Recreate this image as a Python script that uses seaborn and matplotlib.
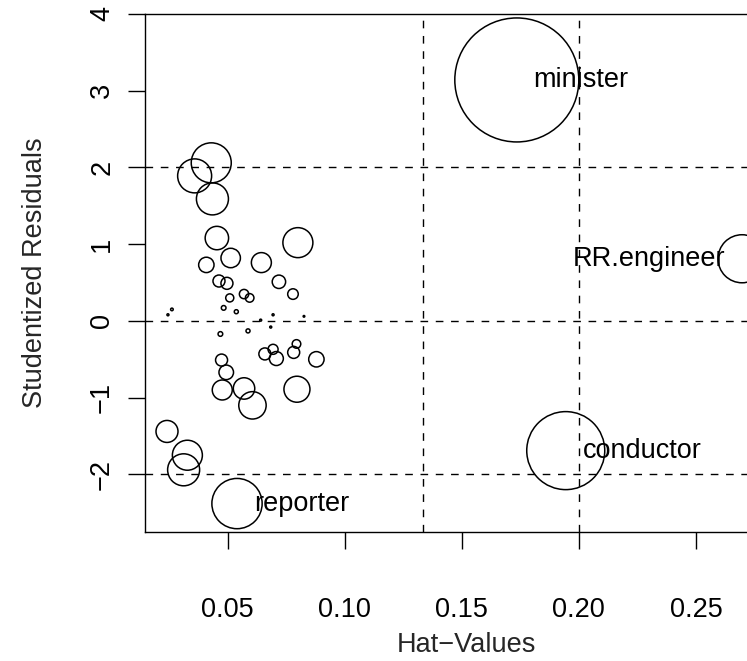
import matplotlib
matplotlib.use("Agg")
import matplotlib.pyplot as plt
import pandas as pd
import seaborn as sns

# Influence plot for the occupational prestige regression:
# hat-values vs studentized residuals, circle area proportional to Cook's D.
names = ["minister", "conductor", "RR.engineer", "reporter"] + [""] * 40
hat = [0.1735, 0.1944, 0.2697, 0.0540,
       0.0430, 0.0359, 0.0435, 0.0454, 0.0800, 0.0409, 0.0513, 0.0644,
       0.0463, 0.0497, 0.0719, 0.0779, 0.0509, 0.0570, 0.0594, 0.0483,
       0.0537, 0.0641, 0.0694, 0.0826, 0.0684, 0.0469, 0.0587, 0.0262,
       0.0245, 0.0794, 0.0782, 0.0659, 0.0694, 0.0708, 0.0879, 0.0474,
       0.0494, 0.0477, 0.0570, 0.0606, 0.0796, 0.0241, 0.0328, 0.0312]
rstud = [3.14, -1.69, 0.81, -2.38,
         2.06, 1.89, 1.59, 1.08, 1.02, 0.73, 0.82, 0.76,
         0.52, 0.49, 0.51, 0.35, 0.30, 0.35, 0.30, 0.17,
         0.12, 0.01, 0.08, 0.06, -0.08, -0.17, -0.13, 0.15,
         0.08, -0.30, -0.41, -0.43, -0.37, -0.49, -0.50, -0.51,
         -0.67, -0.90, -0.88, -1.10, -0.89, -1.44, -1.75, -1.94]
cook = [0.566, 0.224, 0.085, 0.093,
        0.0589, 0.0425, 0.0377, 0.0202, 0.0331, 0.0087, 0.0139, 0.0147,
        0.0053, 0.0053, 0.0066, 0.0041, 0.0024, 0.0032, 0.0027, 0.0008,
        0.0006, 0.00015, 0.00015, 0.0001, 0.00015, 0.0008, 0.0006, 0.00025,
        0.00015, 0.0027, 0.0053, 0.0053, 0.0037, 0.0072, 0.0087, 0.0053,
        0.0078, 0.0147, 0.0169, 0.0276, 0.0249, 0.0178, 0.0331, 0.0377]

hat_cutoffs = [0.1333, 0.2]
resid_cutoffs = [-2, 0, 2]
xticks = [0.05, 0.10, 0.15, 0.20, 0.25]
yticks = [-2, -1, 0, 1, 2, 3, 4]

df = pd.DataFrame({"hat": hat, "rstud": rstud, "cook": cook, "name": names})

sns.set_style("white")
plt.rcParams["font.family"] = ["Liberation Sans", "DejaVu Sans"]
FS = 19.5

fig = plt.figure(figsize=(7.47, 6.61), dpi=100)
ax = fig.add_axes([0.1941, 0.1952, 0.830, 0.7837])

ax.set_xlim(0.0147, 0.2795)
ax.set_ylim(-2.75, 4.0)

for v in hat_cutoffs:
    ax.axvline(v, color="black", lw=1.0, ls=(0, (5.5, 5.5)), zorder=1)
for h in resid_cutoffs:
    ax.axhline(h, color="black", lw=1.0, ls=(0, (5.5, 5.5)), zorder=1)

max_cook = max(cook)
sns.scatterplot(data=df, x="hat", y="rstud", size="cook",
                sizes=(0, 7971), size_norm=(0, max_cook),
                color="black", facecolor="none", edgecolor="black",
                linewidth=1.1, legend=False, ax=ax, zorder=3)

for _, row in df[df["name"] != ""].iterrows():
    right = row["name"] == "RR.engineer"
    ax.annotate(row["name"], (row["hat"], row["rstud"]),
                xytext=(-12 if right else 12, 0), textcoords="offset points",
                ha="right" if right else "left", va="center",
                fontsize=FS, color="black", zorder=4)

ax.set_xticks(xticks)
ax.set_xticklabels([f"{t:.2f}" for t in xticks])
ax.set_yticks(yticks)
ax.set_yticklabels([f"{t}".replace("-", "\u2212") for t in yticks])

ax.tick_params(axis="both", direction="out", length=12, width=1.0,
               color="black", labelsize=FS, labelcolor="black",
               left=True, bottom=True)
ax.tick_params(axis="x", pad=35)
ax.tick_params(axis="y", pad=9.5)
for t in ax.get_yticklabels():
    t.set_rotation(90)
    t.set_va("center")
    t.set_ha("right")

for side in ["left", "bottom", "top", "right"]:
    ax.spines[side].set_color("black")
    ax.spines[side].set_linewidth(1.0)

ax.set_xlabel("Hat\u2212Values", fontsize=FS)
ax.set_ylabel("Studentized Residuals", fontsize=FS)
ax.xaxis.label.set_va("center")
ax.yaxis.label.set_va("center")
ax.xaxis.set_label_coords(0.519, -0.218)
ax.yaxis.set_label_coords(-0.177, 0.5)

fig.savefig("out.png", dpi=100)
